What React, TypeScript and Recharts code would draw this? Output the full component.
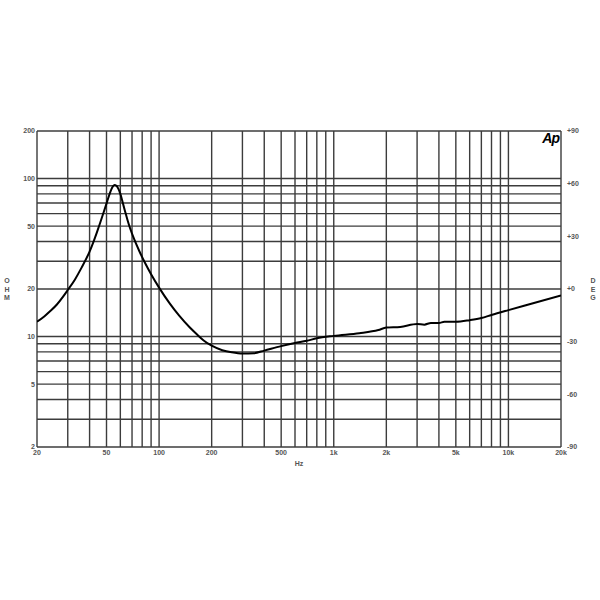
import React from 'react';
import { LineChart, Line, XAxis, YAxis, CartesianGrid } from 'recharts';

// Frequencies (Hz) and impedance (ohm)
const freqs = [20, 22, 24, 26, 28, 30, 33, 36, 40, 42, 44, 46, 48, 50, 52, 54, 55.5, 57, 58.5, 60, 62, 64, 66, 68, 72, 77, 83, 90, 100, 115, 130, 150, 165, 180, 200, 230, 260, 300, 350, 400, 500, 600, 700, 800, 1000, 1400, 1800, 2000, 2400, 3000, 3300, 3600, 4000, 4300, 5000, 6000, 7000, 8000, 10000, 14000, 20000];
const ohms = [12.4, 13.4, 14.6, 15.95, 17.7, 19.7, 23.0, 27.3, 34.5, 39.5, 45.5, 52.5, 60.5, 69.5, 79.5, 88, 91, 90, 86, 80, 70, 61.5, 54.5, 49, 41.3, 34.8, 29.3, 24.8, 20.4, 16.2, 13.6, 11.4, 10.3, 9.45, 8.75, 8.2, 7.95, 7.8, 7.85, 8.15, 8.7, 9.1, 9.4, 9.75, 10.1, 10.5, 11.0, 11.4, 11.5, 12.0, 11.9, 12.2, 12.2, 12.4, 12.4, 12.7, 13.1, 13.7, 14.7, 16.3, 18.2];

const freqGrid = [20, 30, 40, 50, 60, 70, 80, 90, 100, 200, 300, 400, 500, 600, 700, 800, 900, 1000, 2000, 3000, 4000, 5000, 6000, 7000, 8000, 9000, 10000, 20000];
const freqLabels: Record<number, string> = { 20: '20', 50: '50', 100: '100', 200: '200', 500: '500', 1000: '1k', 2000: '2k', 5000: '5k', 10000: '10k', 20000: '20k' };
const ohmGrid = [2, 3, 4, 5, 6, 7, 8, 9, 10, 20, 30, 40, 50, 60, 70, 80, 90, 100, 200];
const ohmLabels = [2, 5, 10, 20, 50, 100, 200];
const degTicks = [-90, -60, -30, 0, 30, 60, 90];

const data = freqs.map((f, i) => ({ f, z: ohms[i] }));

const FONT = '"Liberation Sans", Arial, sans-serif';
const tickStyle = { fontSize: 7, fill: '#555', fontFamily: FONT, fontWeight: 700 };

export default function App() {
  return (
    <div style={{ position: 'absolute', left: 0, top: 0, width: 600, height: 600, background: '#fff' }}>
      <LineChart width={600} height={600} data={data} margin={{ top: 131, right: 9, bottom: 133, left: 7 }}>
        <CartesianGrid yAxisId="ohm" stroke="#3c3c3c" strokeWidth={1.4} fill="none" />
        <XAxis
          dataKey="f"
          type="number"
          scale="log"
          domain={[20, 20000]}
          ticks={freqGrid}
          allowDataOverflow
          height={20}
          axisLine={false}
          tickLine={false}
          tickSize={0}
          tickMargin={3}
          interval={0}
          tick={tickStyle}
          tickFormatter={(v: number) => freqLabels[v] ?? ''}
          label={{ value: 'Hz', position: 'insideBottom', offset: 1, style: { fontSize: 7, fill: '#555', fontFamily: FONT, fontWeight: 700 } }}
        />
        <YAxis
          yAxisId="ohm"
          orientation="left"
          type="number"
          scale="log"
          domain={[2, 200]}
          ticks={ohmGrid}
          allowDataOverflow
          width={30}
          axisLine={false}
          tickLine={false}
          tickSize={0}
          tickMargin={2}
          interval={0}
          tick={tickStyle}
          tickFormatter={(v: number) => (ohmLabels.includes(v) ? String(v) : '')}
        />
        <YAxis
          yAxisId="deg"
          orientation="right"
          type="number"
          domain={[-90, 90]}
          ticks={degTicks}
          allowDataOverflow
          width={30}
          axisLine={false}
          tickLine={false}
          tickSize={0}
          tickMargin={6}
          interval={0}
          tick={tickStyle}
          tickFormatter={(v: number) => (v >= 0 ? '+' + v : String(v))}
        />
        <Line
          yAxisId="ohm"
          dataKey="z"
          type="monotone"
          stroke="#000"
          strokeWidth={2}
          dot={false}
          isAnimationActive={false}
        />
        <g>
          <text x={7} y={283} textAnchor="middle" style={{ fontSize: 7, fill: '#555', fontFamily: FONT, fontWeight: 700 }}>
            <tspan x={7} dy={0}>O</tspan>
            <tspan x={7} dy={8.5}>H</tspan>
            <tspan x={7} dy={8.5}>M</tspan>
          </text>
          <text x={593} y={283} textAnchor="middle" style={{ fontSize: 7, fill: '#555', fontFamily: FONT, fontWeight: 700 }}>
            <tspan x={593} dy={0}>D</tspan>
            <tspan x={593} dy={8.5}>E</tspan>
            <tspan x={593} dy={8.5}>G</tspan>
          </text>
          <text x={559} y={143} textAnchor="end" style={{ fontSize: 14, fill: '#000', fontFamily: FONT, fontWeight: 900, fontStyle: 'italic', letterSpacing: -1 }}>
            Ap
          </text>
        </g>
      </LineChart>
    </div>
  );
}
